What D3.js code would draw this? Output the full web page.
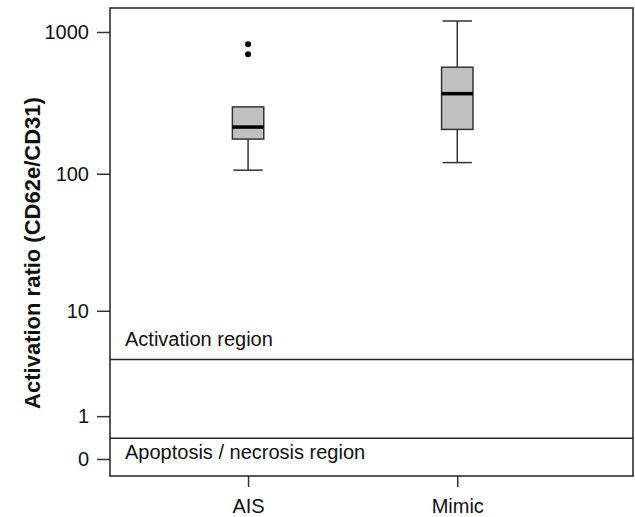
<!DOCTYPE html>
<html>
<head>
<meta charset="utf-8">
<title>Activation ratio</title>
<style type="text/css">
	body { margin: 0; background: #fff; }
	svg text { font-family: "Liberation Sans", Arial, sans-serif; fill: #111; }
	.axis path { display: none; }
	.axis line { stroke: #333; stroke-width: 1.5px; }
	.axis text { font-size: 20px; }
</style>
<script src="https://cdn.jsdelivr.net/npm/d3@7/dist/d3.min.js"></script>
</head>
<body>
<div id="chart"></div>
<script type="text/javascript">
// groups and their box summaries
var groups = ['AIS', 'Mimic'];
var lowWhisker = [106, 120];
var q1 = [176, 206];
var median = [214, 368];
var q3 = [297, 565];
var highWhisker = [297, 1195];
var outliers = [[819, 697], []];

var yTicks = [0, 1, 10, 100, 1000];
var regionLines = [4, 0.4];
var regionLabels = [
	{ text: 'Activation region', value: 5.2 },
	{ text: 'Apoptosis / necrosis region', value: 0 }
];

var W = 635, H = 517;
var margin = { top: 8, right: 2, bottom: 41, left: 110 };
var w = W - margin.left - margin.right,
	h = H - margin.top - margin.bottom;

var svg = d3.select('#chart').append('svg')
	.attr('width', W)
	.attr('height', H);

var g = svg.append('g')
	.attr('transform', 'translate(' + margin.left + ',' + margin.top + ')');

// log(x+1) style axis so that 0 can be shown
var y = d3.scaleSymlog().constant(1)
	.domain([-0.317, 1475])
	.range([h, 0]);

var x = d3.scaleLinear()
	.domain([0.34, 2.84])
	.range([0, w]);

var boxW = x(1.15) - x(1);
var capW = x(1.07) - x(1);

// axes
g.append('g')
	.attr('class', 'axis')
	.call(d3.axisLeft(y).tickValues(yTicks).tickFormat(d3.format('d')).tickSize(13).tickPadding(8));

g.append('g')
	.attr('class', 'axis')
	.attr('transform', 'translate(0,' + h + ')')
	.call(d3.axisBottom(x).tickValues([1, 2]).tickFormat(function(d){ return groups[d - 1]; }).tickSize(11).tickPadding(12));

// region lines
g.selectAll('.region')
	.data(regionLines)
	.enter().append('line')
	.attr('class', 'region')
	.attr('x1', 0).attr('x2', w)
	.attr('y1', function(d){ return y(d); })
	.attr('y2', function(d){ return y(d); })
	.attr('stroke', '#222')
	.attr('stroke-width', 1.5);

g.selectAll('.region-label')
	.data(regionLabels)
	.enter().append('text')
	.attr('class', 'region-label')
	.attr('x', 15)
	.attr('y', function(d){ return y(d.value); })
	.style('font-size', '20px')
	.text(function(d){ return d.text; });

// boxes
var boxes = g.selectAll('.box')
	.data(groups)
	.enter().append('g')
	.attr('class', 'box')
	.attr('transform', function(d, i){ return 'translate(' + x(i + 1) + ',0)'; });

boxes.append('line')
	.attr('x1', 0).attr('x2', 0)
	.attr('y1', function(d, i){ return y(lowWhisker[i]); })
	.attr('y2', function(d, i){ return y(q1[i]); })
	.attr('stroke', '#333').attr('stroke-width', 1.5);

boxes.append('line')
	.attr('x1', 0).attr('x2', 0)
	.attr('y1', function(d, i){ return y(q3[i]); })
	.attr('y2', function(d, i){ return y(highWhisker[i]); })
	.attr('stroke', '#333').attr('stroke-width', 1.5);

boxes.append('line')
	.attr('x1', -capW).attr('x2', capW)
	.attr('y1', function(d, i){ return y(lowWhisker[i]); })
	.attr('y2', function(d, i){ return y(lowWhisker[i]); })
	.attr('stroke', '#333').attr('stroke-width', 1.5);

boxes.filter(function(d, i){ return highWhisker[i] > q3[i]; })
	.append('line')
	.attr('x1', -capW).attr('x2', capW)
	.attr('y1', function(d){ var i = groups.indexOf(d); return y(highWhisker[i]); })
	.attr('y2', function(d){ var i = groups.indexOf(d); return y(highWhisker[i]); })
	.attr('stroke', '#333').attr('stroke-width', 1.5);

boxes.append('rect')
	.attr('x', -boxW / 2)
	.attr('width', boxW)
	.attr('y', function(d, i){ return y(q3[i]); })
	.attr('height', function(d, i){ return y(q1[i]) - y(q3[i]); })
	.attr('fill', '#c0c0c0')
	.attr('stroke', '#333')
	.attr('stroke-width', 1.5);

boxes.append('line')
	.attr('x1', -boxW / 2).attr('x2', boxW / 2)
	.attr('y1', function(d, i){ return y(median[i]); })
	.attr('y2', function(d, i){ return y(median[i]); })
	.attr('stroke', '#000').attr('stroke-width', 3.5);

boxes.selectAll('.outlier')
	.data(function(d, i){ return outliers[i]; })
	.enter().append('circle')
	.attr('class', 'outlier')
	.attr('cx', 0)
	.attr('cy', function(d){ return y(d); })
	.attr('r', 3)
	.attr('fill', '#000');

// frame
g.append('rect')
	.attr('width', w).attr('height', h)
	.attr('fill', 'none')
	.attr('stroke', '#222')
	.attr('stroke-width', 1.5);

// y title
svg.append('text')
	.attr('transform', 'translate(40,' + (margin.top + 245) + ') rotate(-90)')
	.attr('text-anchor', 'middle')
	.style('font-size', '22px')
	.style('font-weight', 'bold')
	.text('Activation ratio (CD62e/CD31)');
</script>
</body>
</html>
